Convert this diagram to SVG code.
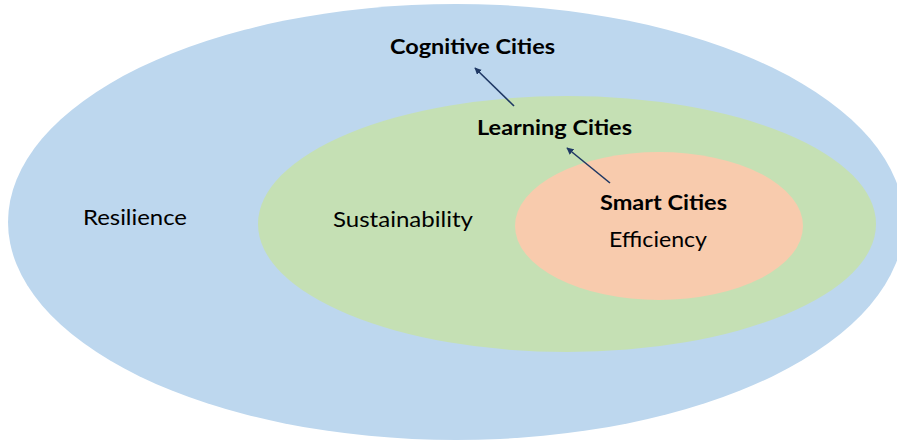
<svg xmlns="http://www.w3.org/2000/svg" width="897" height="442" viewBox="0 0 897 442">
  <defs>
    <marker id="arrowhead" viewBox="0 0 10 10" refX="9" refY="5" markerWidth="7" markerHeight="7" markerUnits="userSpaceOnUse" orient="auto">
      <path d="M0,0 L10,5 L0,10 z" fill="#1F3864"/>
    </marker>
    <style>
      .label { font-family: Lato, "Open Sans", sans-serif; font-size: 21px; fill: #000; text-anchor: middle; }
      .bold { font-weight: bold; }
      .link { stroke: #1F3864; stroke-width: 1.6; fill: none; marker-end: url(#arrowhead); }
    </style>
  </defs>
  <rect width="897" height="442" fill="#ffffff"/>

  <g id="resilience">
    <ellipse cx="456" cy="222" rx="448" ry="218" fill="#BDD7EE"/>
    <text class="label" x="135" y="225" textLength="104" lengthAdjust="spacingAndGlyphs">Resilience</text>
    <text class="label bold" x="472.5" y="54" textLength="165" lengthAdjust="spacingAndGlyphs">Cognitive Cities</text>
  </g>

  <g id="sustainability">
    <ellipse cx="567" cy="224" rx="309" ry="128" fill="#C5E0B4"/>
    <text class="label" x="403" y="227" textLength="140" lengthAdjust="spacingAndGlyphs">Sustainability</text>
    <text class="label bold" x="554.5" y="135" textLength="155" lengthAdjust="spacingAndGlyphs">Learning Cities</text>
  </g>

  <g id="efficiency">
    <ellipse cx="659" cy="226" rx="144" ry="74" fill="#F8CBAD"/>
    <text class="label bold" x="663.5" y="210" textLength="127" lengthAdjust="spacingAndGlyphs">Smart Cities</text>
    <text class="label" x="658" y="247" textLength="98" lengthAdjust="spacingAndGlyphs">Efficiency</text>
  </g>

  <g id="connectors">
    <line class="link" x1="514" y1="106" x2="475" y2="68"/>
    <line class="link" x1="610" y1="183" x2="567" y2="148"/>
  </g>
</svg>
